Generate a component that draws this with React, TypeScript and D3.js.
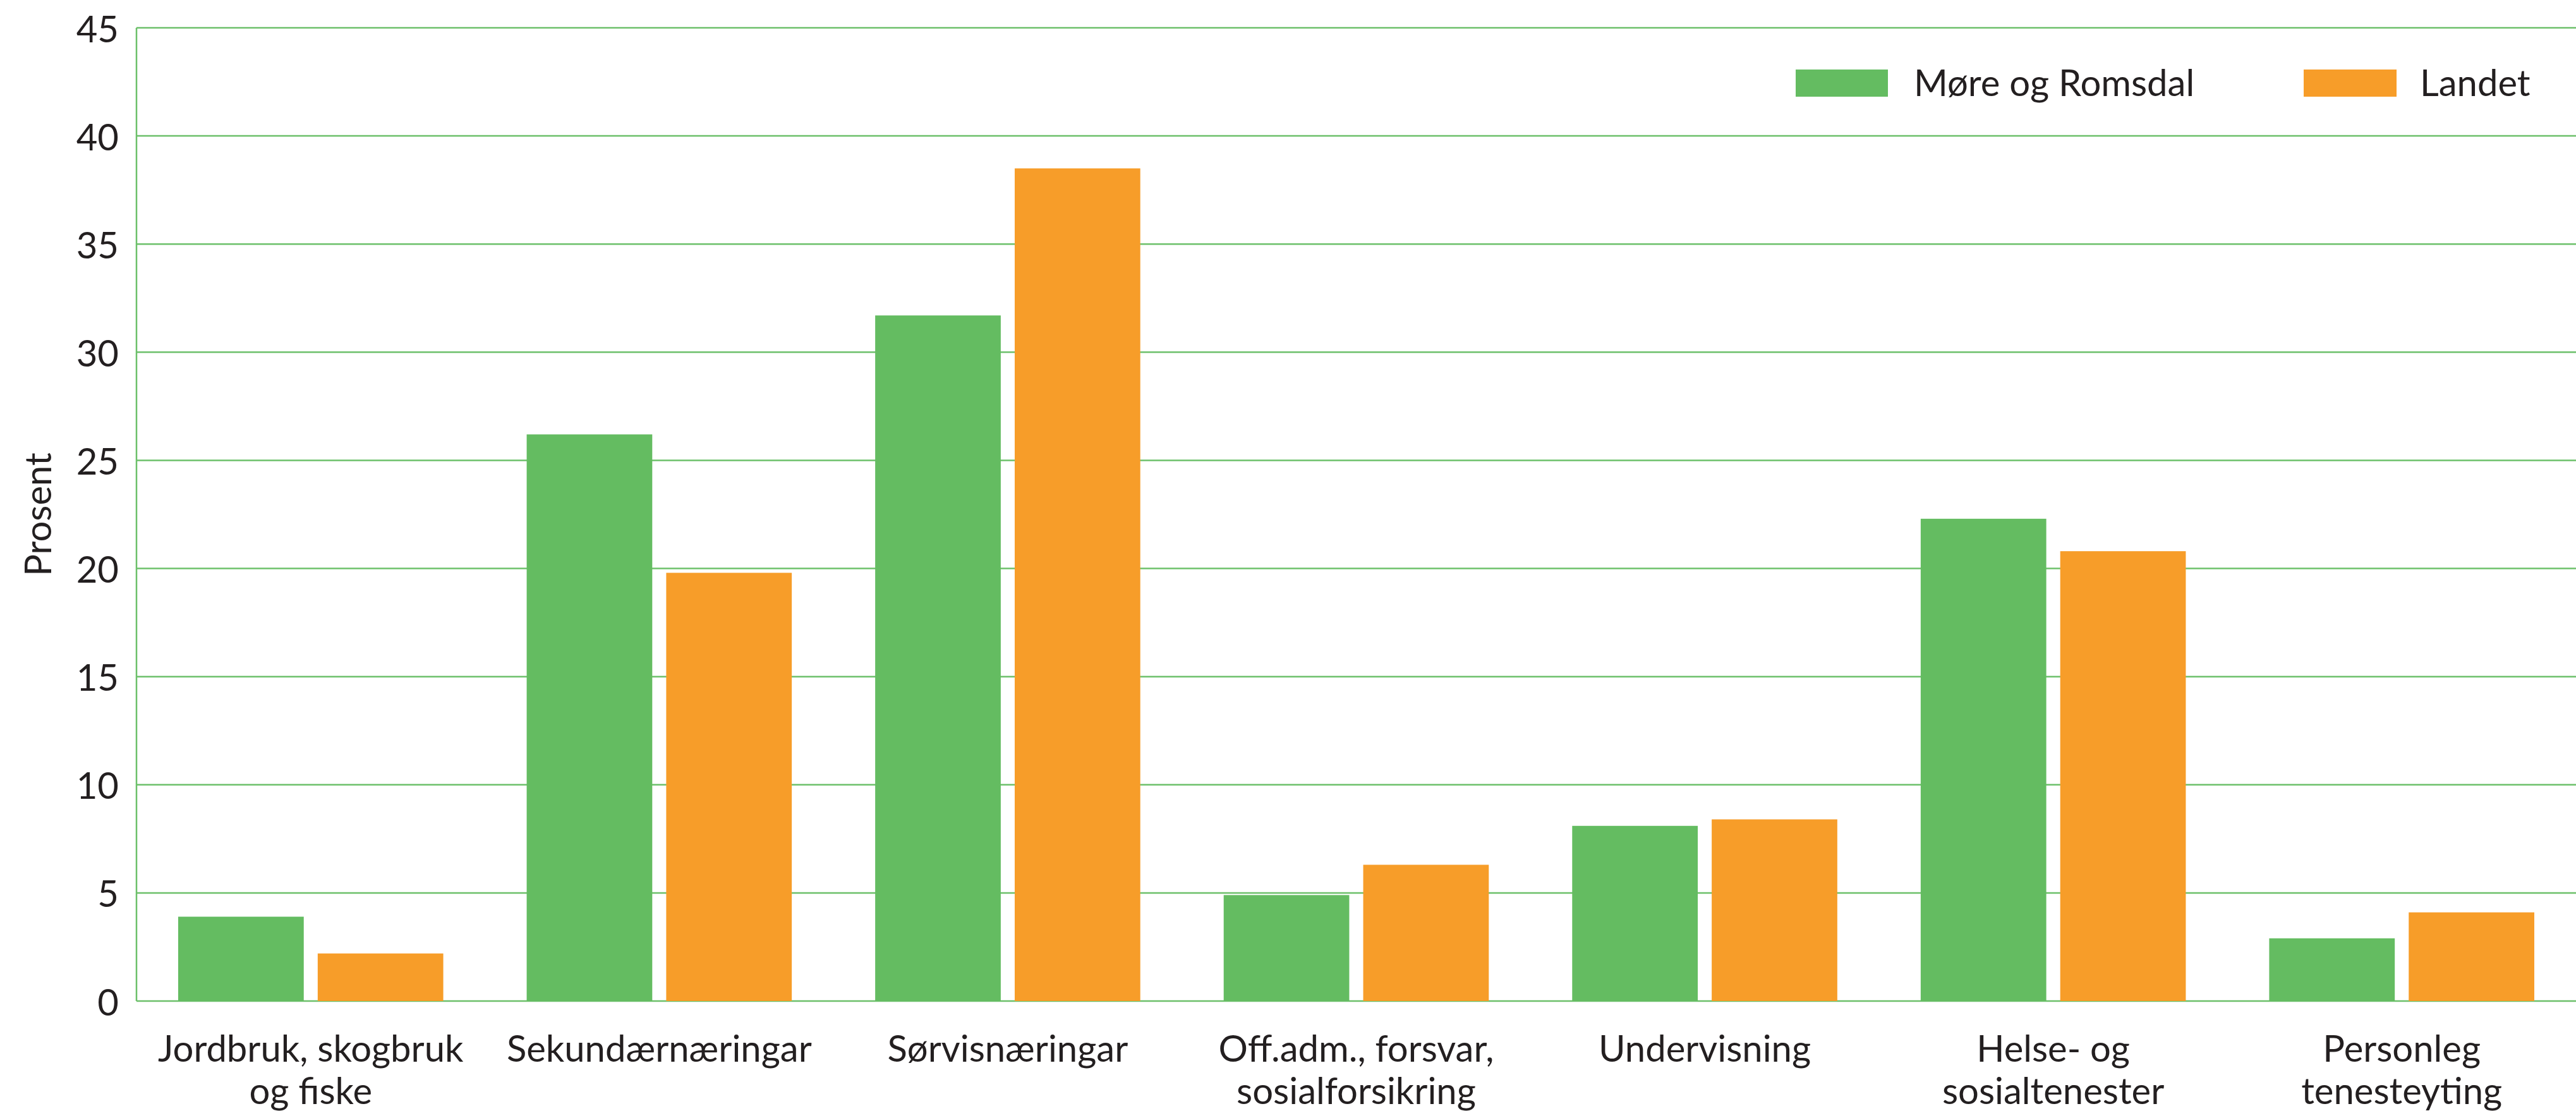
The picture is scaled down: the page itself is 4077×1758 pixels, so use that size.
import React from "react";
import * as d3 from "d3";

const categories = [
  "Jordbruk, skogbruk\nog fiske",
  "Sekundærnæringar",
  "Sørvisnæringar",
  "Off.adm., forsvar,\nsosialforsikring",
  "Undervisning",
  "Helse- og\nsosialtenester",
  "Personleg\ntenesteyting",
];
const seriesNames = ["Møre og Romsdal", "Landet"];
const moreOgRomsdal = [3.9, 26.2, 31.7, 4.9, 8.1, 22.3, 2.9];
const landet = [2.2, 19.8, 38.5, 6.3, 8.4, 20.8, 4.1];
const yTicks = [0, 5, 10, 15, 20, 25, 30, 35, 40, 45];
const yLabel = "Prosent";

const colors = ["#64bc61", "#f79d29"];
const gridColor = "#6cc06a";
const textColor = "#231f20";
const font = "Lato, 'Noto Sans', sans-serif";

const W = 4077;
const H = 1758;
const left = 216;
const right = 4077;
const top = 44;
const bottom = 1584;

export default function App() {
  const x0 = d3.scaleBand<string>().domain(categories).range([left, right]).padding(0);
  const bw = x0.bandwidth();
  const x1 = d3
    .scaleBand<string>()
    .domain(seriesNames)
    .range([66, bw - 66])
    .paddingInner(0.1)
    .paddingOuter(0);
  const y = d3.scaleLinear().domain([0, 45]).range([bottom, top]);
  const values = [moreOgRomsdal, landet];

  return (
    <svg
      width={W}
      height={H}
      style={{ position: "absolute", left: 0, top: 0, background: "#fff" }}
      fontFamily={font}
    >
      <rect x={0} y={0} width={W} height={H} fill="#fff" />
      {/* gridlines */}
      {yTicks.map((t) => (
        <line
          key={"g" + t}
          x1={left}
          x2={right}
          y1={y(t)}
          y2={y(t)}
          stroke={gridColor}
          strokeWidth={2.5}
        />
      ))}
      <line x1={left} x2={left} y1={y(45)} y2={y(0)} stroke={gridColor} strokeWidth={2.5} />
      {/* tick labels */}
      {yTicks.map((t) => (
        <text
          key={"t" + t}
          x={188}
          y={y(t)}
          textAnchor="end"
          dominantBaseline="central"
          fontSize={58}
          fill={textColor}
        >
          {t}
        </text>
      ))}
      <text
        transform={`translate(81,${(top + bottom) / 2}) rotate(-90)`}
        textAnchor="middle"
        fontSize={58}
        fill={textColor}
      >
        {yLabel}
      </text>
      {/* bars */}
      {categories.map((c, i) => (
        <g key={c} transform={`translate(${x0(c)},0)`}>
          {seriesNames.map((s, si) => (
            <rect
              key={s}
              x={x1(s)}
              y={y(values[si][i])}
              width={x1.bandwidth()}
              height={y(0) - y(values[si][i])}
              fill={colors[si]}
            />
          ))}
        </g>
      ))}
      {/* category labels */}
      {categories.map((c) => (
        <text
          key={"l" + c}
          x={(x0(c) as number) + bw / 2}
          y={1680}
          textAnchor="middle"
          fontSize={58}
          fill={textColor}
        >
          {c.split("\n").map((line, li) => (
            <tspan key={li} x={(x0(c) as number) + bw / 2} dy={li === 0 ? 0 : 67}>
              {line}
            </tspan>
          ))}
        </text>
      ))}
      {/* legend */}
      <g>
        <rect x={2842} y={110} width={146} height={43} fill={colors[0]} />
        <text x={3029} y={152} fontSize={58} fill={textColor}>
          {seriesNames[0]}
        </text>
        <rect x={3646} y={110} width={147} height={43} fill={colors[1]} />
        <text x={3830} y={152} fontSize={58} fill={textColor}>
          {seriesNames[1]}
        </text>
      </g>
    </svg>
  );
}
